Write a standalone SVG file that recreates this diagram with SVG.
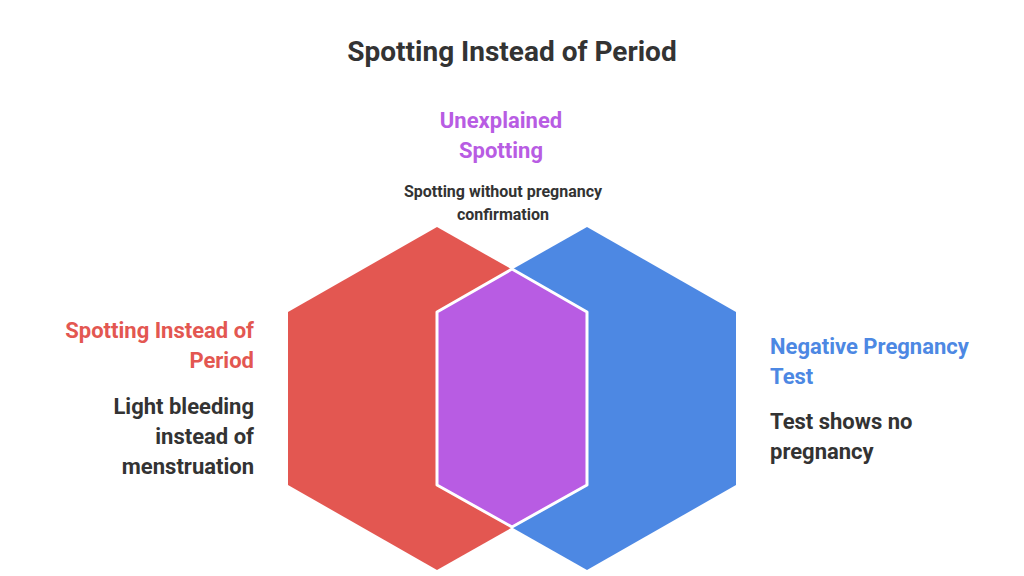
<svg xmlns="http://www.w3.org/2000/svg" width="1024" height="576" viewBox="0 0 1024 576">
<style>
text{font-family:Roboto,"Liberation Sans",sans-serif;font-weight:bold}
.t{fill:#333;font-size:28px}
.h{font-size:22px}
.d{fill:#333;font-size:22px}
.s{fill:#333;font-size:16px}
</style>
<rect width="1024" height="576" fill="#fff"/>
<text class="t" x="512" y="61" text-anchor="middle">Spotting Instead of Period</text>
<g id="red"><polygon points="437,227 587,312 587,485 437,570 288,485 288,312" fill="#e35751"/></g>
<g id="blue"><polygon points="587,227 736,312 736,485 587,570 437,485 437,312" fill="#4d88e3"/></g>
<g id="purple"><polygon points="512,269 587,312 587,485 512,527 437,485 437,312" fill="#b85ce3" stroke="#fff" stroke-width="3" stroke-linejoin="round"/></g>
<g id="labels">
<text class="h" fill="#b85ce3" x="501" y="128" text-anchor="middle">Unexplained</text>
<text class="h" fill="#b85ce3" x="501" y="158" text-anchor="middle">Spotting</text>
<text class="s" x="503" y="197" text-anchor="middle">Spotting without pregnancy</text>
<text class="s" x="503" y="220" text-anchor="middle">confirmation</text>
<text class="h" fill="#e35751" x="254" y="338" text-anchor="end">Spotting Instead of</text>
<text class="h" fill="#e35751" x="254" y="368" text-anchor="end">Period</text>
<text class="d" x="254" y="414" text-anchor="end">Light bleeding</text>
<text class="d" x="254" y="444" text-anchor="end">instead of</text>
<text class="d" x="254" y="474" text-anchor="end">menstruation</text>
<text class="h" fill="#4d88e3" x="770" y="354">Negative Pregnancy</text>
<text class="h" fill="#4d88e3" x="770" y="384">Test</text>
<text class="d" x="770" y="429">Test shows no</text>
<text class="d" x="770" y="459">pregnancy</text>
</g>
<g id="connectors"/>
</svg>
